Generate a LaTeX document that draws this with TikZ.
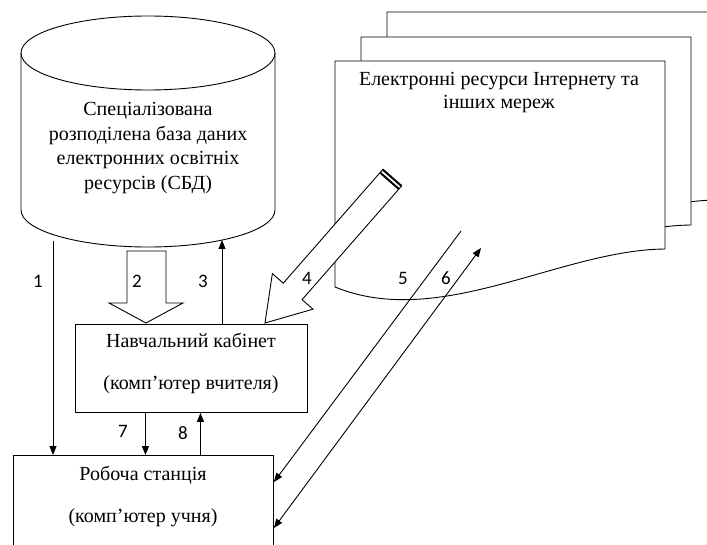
\documentclass[tikz,border=0pt]{standalone}
\usepackage{fontspec}
\setmainfont{Liberation Serif}
\newfontfamily\numfont{Carlito}
\usetikzlibrary{arrows.meta}

\begin{document}
\begin{tikzpicture}[x=1pt,y=-1pt,line width=0.9pt,
    arr/.style={-{Triangle[length=9pt,width=7pt]}},
    twoarr/.style={{Triangle[length=9pt,width=7pt]}-{Triangle[length=9pt,width=7pt]}},
    txt/.style={align=center,font=\fontsize{20}{24}\selectfont},
    num/.style={font=\numfont\fontsize{19}{21}\selectfont},
    page/.style={draw,fill=white},
    box/.style={draw,anchor=north west}]
  \useasboundingbox (0,0) rectangle (707,545);
  \clip (0,0) rectangle (707,545);

  % pages
  \draw[page,shift={(52,-49)}] (335,287) -- (335,61) -- (665,61) -- (665,249) .. controls (560,250) and (440,330) .. (335,287) -- cycle;
  \draw[page,shift={(26,-24)}] (335,287) -- (335,61) -- (665,61) -- (665,249) .. controls (560,250) and (440,330) .. (335,287) -- cycle;
  \draw[page] (335,287) -- (335,61) -- (665,61) -- (665,249) .. controls (560,250) and (440,330) .. (335,287) -- cycle;
  \node[txt,font=\fontsize{20}{23}\selectfont] (doc) at (499,93) {Електронні ресурси Інтернету та\\інших мереж};

  % database
  \draw (21,53) -- (21,210) arc[start angle=180,end angle=360,x radius=127pt,y radius=37pt] -- (275,53);
  \draw (148,53) ellipse [x radius=127pt,y radius=37pt];
  \node[txt,font=\fontsize{20}{24.5}\selectfont] (db) at (148,148) {Спеціалізована\\розподілена база даних\\електронних освітніх\\ресурсів (СБД)};

  \node[box,minimum width=232pt,minimum height=88pt] (cab) at (75,324) {};
  \node[txt] (cabtxt) at (191,363) {Навчальний кабінет\\[18pt](комп’ютер вчителя)};
  \node[box,minimum width=260pt,minimum height=120pt] (ws) at (13,455) {};
  \node[txt] (wstxt) at (143,496) {Робоча станція\\[18pt](комп’ютер учня)};

  \coordinate (c1) at (53,241);
  \draw[arr] (c1) -- (c1 |- ws.north);
  \draw[fill=white] (127,251) -- (127,303) -- (109,303) -- (146,323) -- (183,303) -- (166,303) -- (166,251) -- cycle;
  \coordinate (c3) at (222,240);
  \draw[arr] (c3 |- cab.north) -- (c3);

  % pencil
  \begin{scope}[shift={(265,323)},rotate=48.8]
    \draw[fill=white] (0,0) -- (42,27) -- (42,12.5) -- (193,12.5) -- (193,-12.5) -- (42,-12.5) -- (42,-27) -- cycle;
    \draw[line width=2pt] (189,-12.5) -- (189,12.5);
    \draw[line width=2pt] (193,-12.5) -- (193,12.5);
  \end{scope}

  \coordinate (c5) at (461,231);
  \coordinate (e5) at (ws.east |- 0,482);
  \draw[arr] (c5) -- (e5);
  \coordinate (c6) at (481,248);
  \coordinate (e6) at (ws.east |- 0,528);
  \draw[twoarr] (e6) -- (c6);

  \draw[arr] ([xshift=-46pt]cab.south) -- ([xshift=-46pt]cab.south |- ws.north);
  \draw[arr] ([xshift=9pt]cab.south |- ws.north) -- ([xshift=9pt]cab.south);

  \node[num] (n1) at (38,281) {1};
  \node[num] (n2) at (137,281) {2};
  \node[num] (n3) at (203,281) {3};
  \node[num] (n4) at (307,278) {4};
  \node[num] (n5) at (403,278) {5};
  \node[num] (n6) at (446,278) {6};
  \node[num] (n7) at (123,431) {7};
  \node[num] (n8) at (183,433) {8};
\end{tikzpicture}
\end{document}
